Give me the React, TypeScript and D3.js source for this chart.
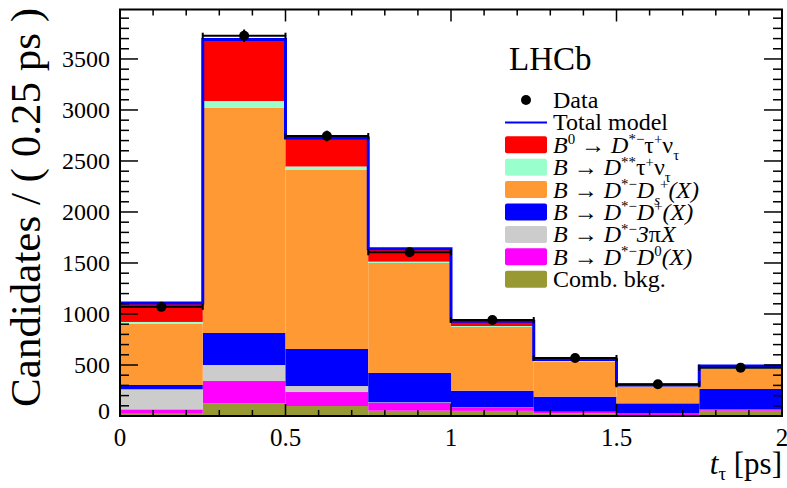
import * as d3 from "d3";

// bin edges in t_tau [ps]
const binEdges = [0, 0.25, 0.5, 0.75, 1.0, 1.25, 1.5, 1.75, 2.0];

// fitted components per bin (candidates / 0.25 ps), bottom of stack first
const combBkg = [22, 125, 98, 52, 50, 26, 10, 52];
const dZero = [43, 218, 137, 76, 33, 16, 16, 13];
const threePi = [197, 157, 59, 6, 2, 0, 0, 0];
const dPlus = [42, 314, 363, 288, 163, 147, 98, 200];
const dsPlus = [598, 2206, 1755, 1078, 625, 345, 165, 200];
const dStarStar = [20, 68, 34, 13, 9, 5, 4, 5];
const signal = [186, 603, 279, 127, 46, 15, 11, 20];

const dataCounts = [1070, 3728, 2745, 1605, 941, 569, 311, 474];

const yTicks = [0, 500, 1000, 1500, 2000, 2500, 3000, 3500];
const xTicks = [0, 0.5, 1, 1.5, 2];

type Seg = { t: string; it?: boolean; sup?: boolean; sub?: boolean };

const layers = [
  { key: "comb", values: combBkg, color: "#999933" },
  { key: "d0", values: dZero, color: "#ff00ff" },
  { key: "pi3", values: threePi, color: "#cccccc" },
  { key: "dp", values: dPlus, color: "#0000ff" },
  { key: "ds", values: dsPlus, color: "#ff9933" },
  { key: "dss", values: dStarStar, color: "#99ffcc" },
  { key: "sig", values: signal, color: "#ff0000" },
];

const B: Seg = { t: "B", it: true };
const arrow: Seg = { t: " \u2192 " };
const D: Seg = { t: "D", it: true };
const starMinus: Seg = { t: "*\u2212", sup: true };

const legendBoxes: { color: string; label: Seg[] }[] = [
  {
    color: "#ff0000",
    label: [B, { t: "0", sup: true }, arrow, D, starMinus, { t: "\u03c4" }, { t: "+", sup: true }, { t: "\u03bd" }, { t: "\u03c4", sub: true }],
  },
  {
    color: "#99ffcc",
    label: [B, arrow, D, { t: "**", sup: true }, { t: "\u03c4" }, { t: "+", sup: true }, { t: "\u03bd" }, { t: "\u03c4", sub: true }],
  },
  {
    color: "#ff9933",
    label: [B, arrow, D, starMinus, D, { t: "s", sub: true, it: true }, { t: "+", sup: true }, { t: "(X)", it: true }],
  },
  {
    color: "#0000ff",
    label: [B, arrow, D, starMinus, D, { t: "+", sup: true }, { t: "(X)", it: true }],
  },
  {
    color: "#cccccc",
    label: [B, arrow, D, starMinus, { t: "3", it: true }, { t: "\u03c0" }, { t: "X", it: true }],
  },
  {
    color: "#ff00ff",
    label: [B, arrow, D, starMinus, D, { t: "0", sup: true }, { t: "(X)", it: true }],
  },
  { color: "#999933", label: [{ t: "Comb. bkg." }] },
];

const W = 787;
const H = 488;
const left = 120;
const right = 782;
const top = 9.5;
const bottom = 416;
const font = '"Liberation Serif", "Times New Roman", serif';

function RichText({ x, y, segs, size }: { x: number; y: number; segs: Seg[]; size: number }) {
  // relative shifts (dy) keep every piece in one text chunk
  let cur = 0;
  return (
    <text x={x} y={y} fontSize={size}>
      {segs.map((s, i) => {
        const target = s.sup ? -0.36 * size : s.sub ? 0.3 * size : 0;
        const dy = target - cur;
        cur = target;
        return (
          <tspan
            key={i}
            dy={dy}
            fontSize={s.sup || s.sub ? size * 0.62 : size}
            fontStyle={s.it ? "italic" : "normal"}
          >
            {s.t}
          </tspan>
        );
      })}
    </text>
  );
}

export default function App() {
  const x = d3.scaleLinear().domain([0, 2]).range([left, right]);
  const y = d3.scaleLinear().domain([0, 3985]).range([bottom, top]);

  const rows = binEdges.slice(0, -1).map((_, i) => {
    const r: Record<string, number> = {};
    layers.forEach((l) => (r[l.key] = l.values[i]));
    return r;
  });
  const stacked = d3.stack<Record<string, number>>().keys(layers.map((l) => l.key))(rows);

  const totals = rows.map((r) => layers.reduce((s, l) => s + r[l.key], 0));
  const totalLine = d3
    .line<number>()
    .x((_, i) => x(binEdges[i]))
    .y((_, i) => y(totals[Math.min(i, totals.length - 1)]))
    .curve(d3.curveStepAfter)(binEdges);

  const minorX = d3.range(0, 2.0001, 0.1);
  const minorY = d3.range(0, 3901, 100);

  const legendTop = 100;
  const rowH = 22.4;
  const legendSize = 24;

  return (
    <svg
      width={W}
      height={H}
      style={{ position: "absolute", left: 0, top: 0, background: "#fff", fontFamily: font }}
    >
      {/* stacked components */}
      {stacked.map((layer, li) => (
        <g key={layer.key}>
          {layer.map((d, i) => (
            <rect
              key={i}
              x={x(binEdges[i])}
              width={x(binEdges[i + 1]) - x(binEdges[i])}
              y={y(d[1])}
              height={Math.max(0, y(d[0]) - y(d[1]))}
              fill={layers[li].color}
            />
          ))}
        </g>
      ))}

      {/* total model */}
      <path d={totalLine ?? ""} fill="none" stroke="#0000ff" strokeWidth={3} />

      {/* data points */}
      {dataCounts.map((n, i) => {
        const cx = x((binEdges[i] + binEdges[i + 1]) / 2);
        const cy = y(n);
        const err = Math.sqrt(n);
        const x0 = x(binEdges[i]);
        const x1 = x(binEdges[i + 1]);
        return (
          <g key={i} stroke="#000" strokeWidth={2}>
            <line x1={x0} x2={x1} y1={cy} y2={cy} />
            <line x1={x0} x2={x0} y1={cy - 3} y2={cy + 3} />
            <line x1={x1} x2={x1} y1={cy - 3} y2={cy + 3} />
            <line x1={cx} x2={cx} y1={y(n + err)} y2={y(n - err)} />
            <circle cx={cx} cy={cy} r={5} fill="#000" stroke="none" />
          </g>
        );
      })}

      {/* frame and ticks */}
      <g stroke="#000" strokeWidth={1.5}>
        {minorY.map((v) => {
          const len = v % 500 === 0 ? 18 : 9;
          return (
            <g key={v}>
              <line x1={left} x2={left + len} y1={y(v)} y2={y(v)} />
              <line x1={right} x2={right - len} y1={y(v)} y2={y(v)} />
            </g>
          );
        })}
        {minorX.map((v) => {
          const major = Math.abs(v * 2 - Math.round(v * 2)) < 1e-6;
          const len = major ? 12 : 6;
          return (
            <g key={v.toFixed(2)}>
              <line x1={x(v)} x2={x(v)} y1={bottom} y2={bottom - len} />
              <line x1={x(v)} x2={x(v)} y1={top} y2={top + len} />
            </g>
          );
        })}
      </g>
      <rect
        x={left}
        y={top}
        width={right - left}
        height={bottom - top}
        fill="none"
        stroke="#000"
        strokeWidth={2}
      />

      {/* tick labels */}
      {yTicks.map((v) => (
        <text
          key={v}
          x={110}
          y={v === 0 ? y(v) + 3 : y(v) + 8}
          textAnchor="end"
          fontSize={24}
        >
          {v}
        </text>
      ))}
      {xTicks.map((v) => (
        <text key={v} x={x(v)} y={446} textAnchor="middle" fontSize={25}>
          {v}
        </text>
      ))}

      {/* axis titles */}
      <text transform="translate(40,8) rotate(-90)" textAnchor="end" fontSize={43}>
        Candidates / ( 0.25 ps )
      </text>
      <text x={right} y={474} textAnchor="end" fontSize={31}>
        <tspan fontStyle="italic">t</tspan>
        <tspan fontSize={19} dy={6}>
          {"\u03c4"}
        </tspan>
        <tspan dy={-6}> [ps]</tspan>
      </text>

      {/* LHCb label */}
      <text x={509} y={70} fontSize={33}>
        LHCb
      </text>

      {/* legend */}
      <circle cx={526} cy={legendTop} r={5} fill="#000" />
      <text x={553} y={legendTop + 8} fontSize={legendSize}>
        Data
      </text>
      <line
        x1={505}
        x2={547}
        y1={legendTop + rowH}
        y2={legendTop + rowH}
        stroke="#0000ff"
        strokeWidth={2}
      />
      <text x={553} y={legendTop + rowH + 8} fontSize={legendSize}>
        Total model
      </text>
      {legendBoxes.map((e, i) => {
        const cy = legendTop + rowH * (i + 2);
        return (
          <g key={i}>
            <rect x={505} y={cy - 8.5} width={42} height={17} rx={2} fill={e.color} />
            <RichText x={553} y={cy + 8} segs={e.label} size={legendSize} />
          </g>
        );
      })}
    </svg>
  );
}
